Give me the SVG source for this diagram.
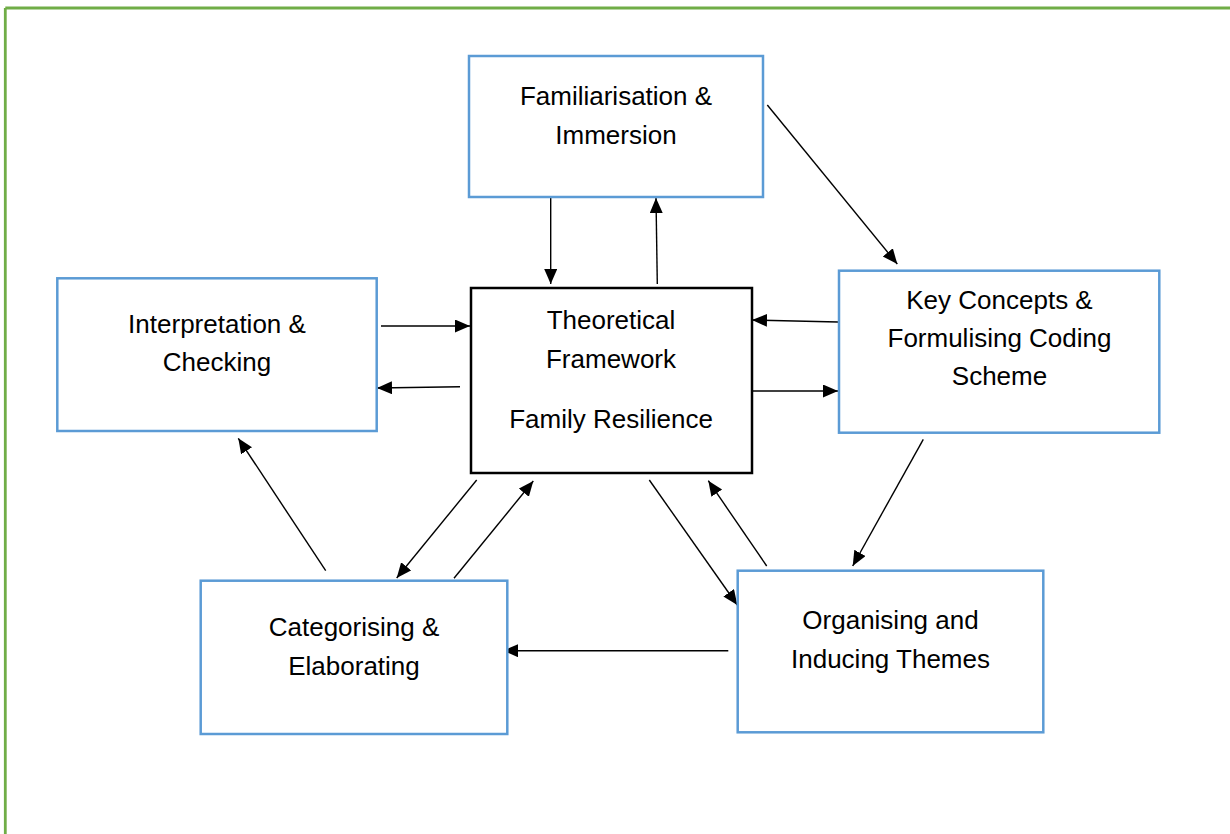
<svg xmlns="http://www.w3.org/2000/svg" width="1230" height="834" viewBox="0 0 1230 834">
<defs>
<style>
.box{fill:#fff;stroke:#5B9BD5;stroke-width:2.5}
.core{fill:#fff;stroke:#000;stroke-width:2.5}
.lbl{font-family:"Liberation Sans",Arial,sans-serif;font-size:26px;fill:#000;text-anchor:middle}
.con{stroke:#000;stroke-width:1.4;fill:none;marker-end:url(#ah)}
</style>
<marker id="ah" markerUnits="userSpaceOnUse" markerWidth="16" markerHeight="14" refX="15" refY="6.5" orient="auto">
<path d="M0,0 L15,6.5 L0,13 z" fill="#000"/>
</marker>
</defs>
<rect width="1230" height="834" fill="#fff"/>
<g id="frame">
<line x1="5.3" y1="8" x2="1230" y2="8" stroke="#70AD47" stroke-width="2.8"/>
<line x1="5.3" y1="8" x2="5.3" y2="834" stroke="#70AD47" stroke-width="2.8"/>
</g>
<g id="connectors">
<line class="con" x1="550.7" y1="197" x2="550.7" y2="284"/>
<line class="con" x1="657.3" y1="284" x2="656" y2="198"/>
<line class="con" x1="767.3" y1="105" x2="897.3" y2="264"/>
<line class="con" x1="838" y1="322" x2="752" y2="320"/>
<line class="con" x1="752" y1="391" x2="838" y2="391"/>
<line class="con" x1="381" y1="326" x2="470" y2="326"/>
<line class="con" x1="460" y1="386.7" x2="377" y2="388"/>
<line class="con" x1="923.3" y1="439.3" x2="852.7" y2="566"/>
<line class="con" x1="649.3" y1="480" x2="737.3" y2="605"/>
<line class="con" x1="766.7" y1="566" x2="708.3" y2="480.7"/>
<line class="con" x1="728.3" y1="650.7" x2="503" y2="650.7"/>
<line class="con" x1="476.7" y1="480" x2="396.7" y2="578"/>
<line class="con" x1="454" y1="578.3" x2="533.3" y2="481"/>
<line class="con" x1="325.7" y1="570.7" x2="238.3" y2="438.3"/>
</g>
<g id="familiarisation">
<rect class="box" x="469" y="56" width="294" height="141"/>
<text class="lbl" x="616" y="105">Familiarisation &amp;</text>
<text class="lbl" x="616" y="144">Immersion</text>
</g>
<g id="theoretical">
<rect class="core" x="471" y="288" width="281" height="185"/>
<text class="lbl" x="611" y="329.3">Theoretical</text>
<text class="lbl" x="611" y="367.7">Framework</text>
<text class="lbl" x="611" y="428.3">Family Resilience</text>
</g>
<g id="interpretation">
<rect class="box" x="57.3" y="278.3" width="319.4" height="152.7"/>
<text class="lbl" x="217" y="332.7">Interpretation &amp;</text>
<text class="lbl" x="217" y="371">Checking</text>
</g>
<g id="keyconcepts">
<rect class="box" x="839" y="270.7" width="320.3" height="162"/>
<text class="lbl" x="999.5" y="309.3">Key Concepts &amp;</text>
<text class="lbl" x="999.5" y="347.3">Formulising Coding</text>
<text class="lbl" x="999.5" y="385.3">Scheme</text>
</g>
<g id="categorising">
<rect class="box" x="200.7" y="580.7" width="306.6" height="153.3"/>
<text class="lbl" x="354" y="636">Categorising &amp;</text>
<text class="lbl" x="354" y="675">Elaborating</text>
</g>
<g id="organising">
<rect class="box" x="737.7" y="570.7" width="305.6" height="161.6"/>
<text class="lbl" x="890.5" y="629.3">Organising and</text>
<text class="lbl" x="890.5" y="668.3">Inducing Themes</text>
</g>
</svg>
